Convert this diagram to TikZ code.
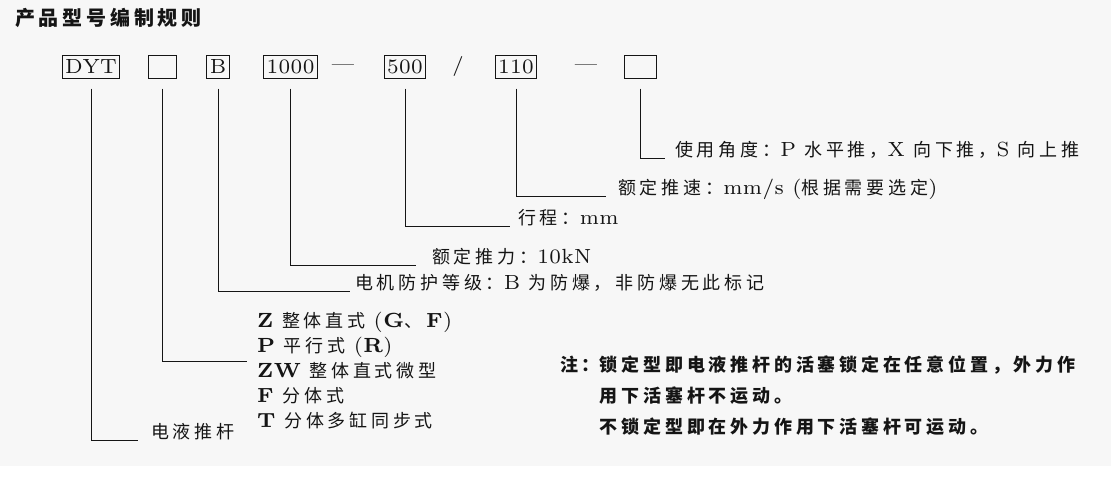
\documentclass[tikz,border=0pt]{standalone}
\usepackage{fontspec}
\setmainfont{lmroman7-regular.otf}[BoldFont=lmroman7-bold.otf, LetterSpace=2]
\newfontfamily\cjk[LetterSpace=21]{Noto Sans CJK SC}
\newfontfamily\cjkt[LetterSpace=19]{Noto Sans CJK SC}
\newfontfamily\cjkn[LetterSpace=21]{Noto Sans CJK SC}
\newcommand\zh[1]{{\fontsize{18}{24}\selectfont\cjk #1}}
\definecolor{bg}{HTML}{F7F7F7}
\definecolor{ink}{HTML}{151515}
\begin{document}
\begin{tikzpicture}[x=1pt,y=-1pt,
  every node/.style={text=ink},
  box/.style={draw=ink, line width=1pt, inner xsep=3pt, inner ysep=0pt, minimum height=23pt, font=\fontsize{20.5}{24}\selectfont},
  sym/.style={inner sep=0pt, font=\fontsize{20}{24}\selectfont},
  lbl/.style={anchor=base west, inner sep=0pt, font=\fontsize{20.5}{24}\selectfont},
  conn/.style={draw=ink, line width=1pt}]
\fill[bg] (0,0) rectangle (1111,466);
\useasboundingbox (0,0) rectangle (1111,480);

\node[anchor=west, inner sep=0pt, font=\fontsize{20}{24}\selectfont\cjkt\bfseries] (title) at (15,18) {产品型号编制规则};

\node[box] (b1) at (91,66.5) {DYT};
\node[box, minimum width=28pt] (b2) at (162,66.5) {};
\node[box] (b3) at (218,66.5) {B};
\node[box] (b4) at (290.5,66.5) {1000};
\node[sym] (d1) at (343,68) {\textemdash};
\node[box] (b5) at (405,66.5) {500};
\node[sym] (s1) at (458,66) {/};
\node[box] (b6) at (516,66.5) {110};
\node[sym] (d2) at (586,68) {\textemdash};
\node[box, minimum width=32pt] (b7) at (640,66.5) {};

\node[lbl] (l7) at (675,156) {\zh{使用角度：}P \zh{水平推，}X \zh{向下推，}S \zh{向上推}};
\node[lbl] (l6) at (618,194) {\zh{额定推速：}mm/s (\zh{根据需要选定})};
\node[lbl] (l5) at (518,224) {\zh{行程：}mm};
\node[lbl] (l4) at (432,263) {\zh{额定推力：}10kN};
\node[lbl] (l3) at (355,289) {\zh{电机防护等级：}B \zh{为防爆，非防爆无此标记}};
\node[lbl] (l1) at (151,438) {\zh{电液推杆}};
\node[anchor=west, inner sep=0pt, align=left, font=\fontsize{20.5}{25}\selectfont] (l2) at (257,371)
  {\textbf{Z} \zh{整体直式} (\textbf{G}\zh{、}\textbf{F})\\
   \textbf{P} \zh{平行式} (\textbf{R})\\
   \textbf{ZW} \zh{整体直式微型}\\
   \textbf{F} \zh{分体式}\\
   \textbf{T} \zh{分体多缸同步式}};

\node[anchor=north west, inner sep=0pt, font=\fontsize{18}{31}\selectfont\cjkn\bfseries] (n1) at (560,350)
  {\begin{tabular}{@{}l@{}l@{}}
   注：&锁定型即电液推杆的活塞锁定在任意位置，外力作\\
   &用下活塞杆不运动。\\
   &不锁定型即在外力作用下活塞杆可运动。
   \end{tabular}};

\draw[conn] ([yshift=-10pt]b7.south) |- ([xshift=-10pt,yshift=-2pt]l7.base west);
\draw[conn] ([yshift=-10pt]b6.south) |- ([xshift=-12pt,yshift=-2pt]l6.base west);
\draw[conn] ([yshift=-10pt]b5.south) |- ([xshift=-8pt,yshift=-2pt]l5.base west);
\draw[conn] ([yshift=-10pt]b4.south) |- ([xshift=-16pt,yshift=-2pt]l4.base west);
\draw[conn] ([yshift=-10pt]b3.south) |- ([xshift=-5pt,yshift=-2pt]l3.base west);
\draw[conn] ([yshift=-10pt]b2.south) |- ([xshift=-10pt,yshift=10pt]l2.west);
\draw[conn] ([yshift=-10pt]b1.south) |- ([xshift=-13pt,yshift=-2pt]l1.base west);
\end{tikzpicture}
\end{document}
